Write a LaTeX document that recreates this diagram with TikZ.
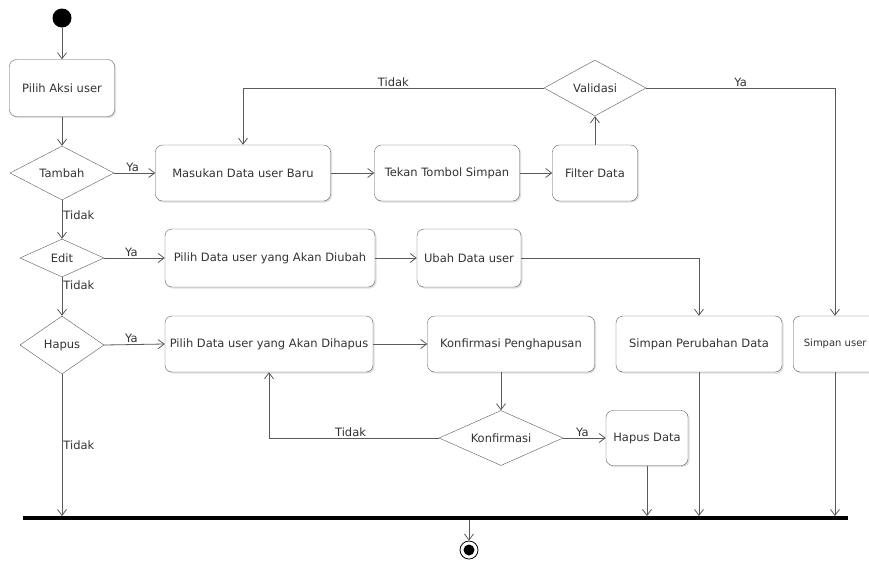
\documentclass[tikz,border=0pt]{standalone}
\usepackage{fontspec}
\setmainfont{DejaVu Sans}
\usepackage{tikz}
\usetikzlibrary{shapes.geometric,arrows.meta,positioning,calc,shadows}

\definecolor{lineg}{HTML}{5A5A5A}
\definecolor{textg}{HTML}{333333}

\tikzset{
  act/.style={draw=lineg, rounded corners=7pt, fill=white, text=textg, inner sep=2pt,
    drop shadow={shadow xshift=1.5pt, shadow yshift=-1.5pt, opacity=0.25}},
  dec/.style={draw=lineg, diamond, aspect=3, inner sep=0pt, fill=white, text=textg},
  flow/.style={draw=lineg, thick, -{Straight Barb[length=6pt,width=9pt]}},
  lbl/.style={text=textg, inner sep=1pt}
}

\begin{document}
\begin{tikzpicture}[x=1pt,y=-1pt, font=\fontsize{11.5}{13}\selectfont]
\useasboundingbox[fill=white] (0,0) rectangle (869,560);
\clip (0,0) rectangle (869,560);

\node[circle, fill=black, minimum size=19pt, inner sep=0pt] (start) at (62,18) {};
\node[act, minimum width=105pt, minimum height=57pt] (aksi) at (62,88) {Pilih Aksi user};
\node[dec, minimum width=104pt, minimum height=54pt] (tambah) at (62,173) {Tambah};
\node[dec, minimum width=84pt, minimum height=38pt] (edit) at (62,258) {Edit};
\node[dec, minimum width=84pt, minimum height=58pt] (hapus) at (62,345) {Hapus};

\node[act, minimum width=175pt, minimum height=56pt] (masuk) at (243,173) {Masukan Data user Baru};
\node[act, minimum width=145pt, minimum height=56pt] (tekan) at (447,173) {Tekan Tombol Simpan};
\node[act, minimum width=85pt, minimum height=56pt] (filter) at (595,173) {Filter Data};
\node[dec, minimum width=102pt, minimum height=56pt] (valid) at (595,88) {Validasi};

\node[act, minimum width=210pt, minimum height=58pt] (pilubah) at (270,258) {Pilih Data user yang Akan Diubah};
\node[act, minimum width=104pt, minimum height=58pt] (ubah) at (469,258) {Ubah Data user};

\node[act, minimum width=208pt, minimum height=56pt] (pilhapus) at (269,344) {Pilih Data user yang Akan Dihapus};
\node[act, minimum width=167pt, minimum height=56pt] (konfp) at (511,344) {Konfirmasi Penghapusan};
\node[act, minimum width=166pt, minimum height=56pt] (simpper) at (699,344) {Simpan Perubahan Data};
\node[act, minimum width=84pt, minimum height=56pt, anchor=west, font=\fontsize{10}{12}\selectfont] (simpuser) at (793,344) {Simpan user};
\coordinate (ucol) at (835,0);

\node[dec, minimum width=124pt, minimum height=55pt] (konf) at (501,438) {Konfirmasi};
\node[act, minimum width=82pt, minimum height=55pt] (hapusdata) at (647,438) {Hapus Data};

\node[rectangle, fill=black, minimum width=825pt, minimum height=3.5pt, inner sep=0pt] (bar) at (435.5,518) {};
\node[circle, draw=black, thick, minimum size=18pt, inner sep=0pt] (end) at (469,550) {};
\node[circle, fill=black, minimum size=11pt, inner sep=0pt] at (end) {};

\draw[flow] (start) -- (aksi);
\draw[flow] (aksi) -- (tambah);
\draw[flow] (tambah) -- node[lbl, right, pos=0.4] {Tidak} (edit);
\draw[flow] (edit) -- node[lbl, right, pos=0.2] {Tidak} (hapus);
\draw[flow] (hapus.south) -- node[lbl, right] {Tidak} (hapus.south |- bar.north);

\draw[flow] (tambah.east) -- node[lbl, above, pos=0.45] {Ya} (masuk.west);
\draw[flow] (masuk) -- (tekan);
\draw[flow] (tekan) -- (filter);
\draw[flow] (filter) -- (valid);
\draw[flow] (valid.west) -| node[lbl, above, pos=0.25] {Tidak} (masuk.north);
\draw[flow] (valid.east) -| node[lbl, above, pos=0.25] {Ya} (ucol |- simpuser.north);

\draw[flow] (edit.east) -- node[lbl, above, pos=0.45] {Ya} (pilubah.west);
\draw[flow] (pilubah) -- (ubah);
\draw[flow] (ubah.east) -| (simpper.north);

\draw[flow] (hapus.east) -- node[lbl, above, pos=0.45] {Ya} (pilhapus.west);
\draw[flow] (pilhapus) -- (konfp);
\draw[flow] (konfp.south -| konf.north) -- (konf.north);
\draw[flow] (konf.west) -| node[lbl, above, pos=0.26] {Tidak} (pilhapus.south);
\draw[flow] (konf.east) -- node[lbl, above, pos=0.45] {Ya} (hapusdata.west);

\draw[flow] (hapusdata.south) -- (hapusdata.south |- bar.north);
\draw[flow] (simpper.south) -- (simpper.south |- bar.north);
\draw[flow] (ucol |- simpuser.south) -- (ucol |- bar.north);
\draw[flow] (bar.south -| end.north) -- (end.north);
\end{tikzpicture}
\end{document}
